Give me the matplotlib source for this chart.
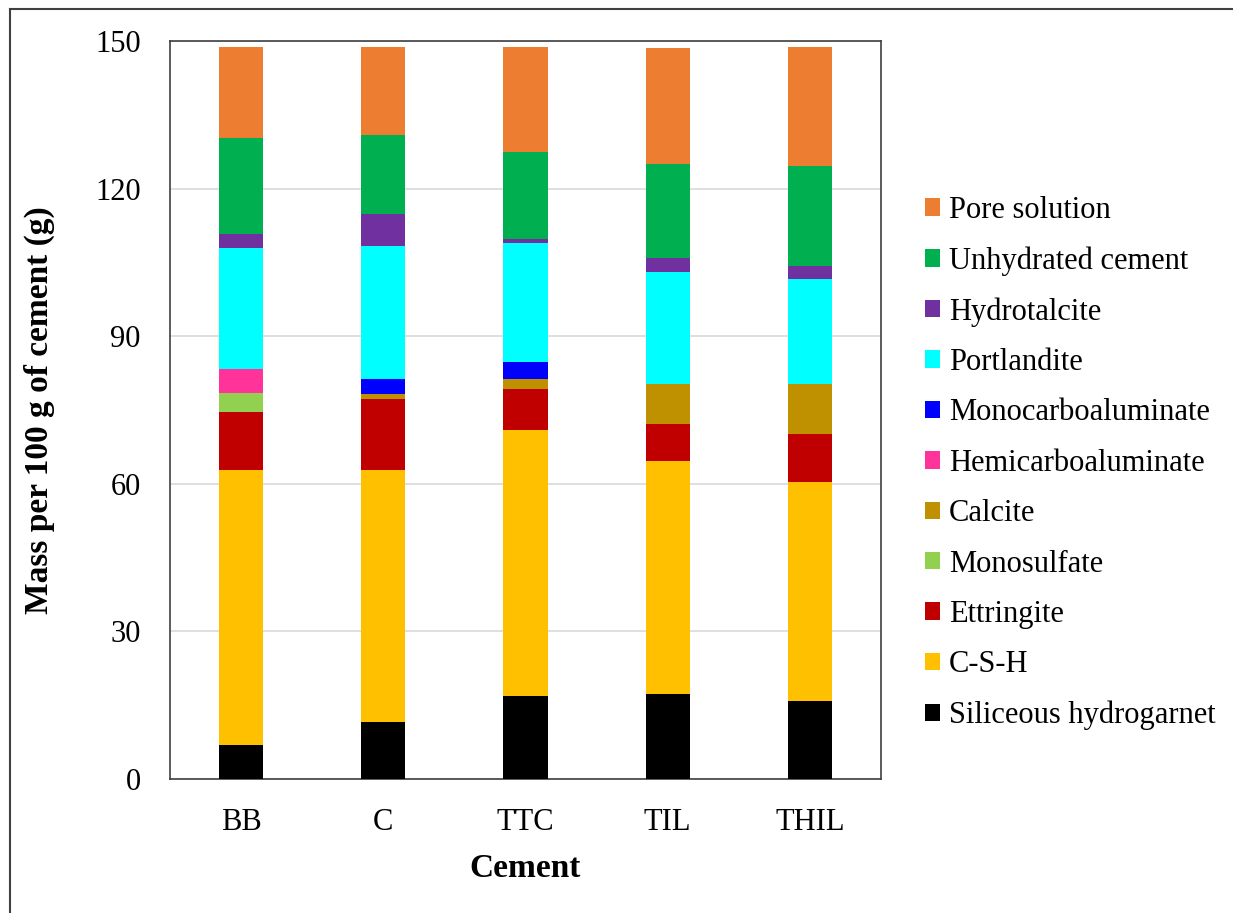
import numpy as np
import matplotlib
matplotlib.use('Agg')
import matplotlib.pyplot as plt
from matplotlib.lines import Line2D

plt.rcParams['font.family'] = ['Liberation Serif', 'DejaVu Serif']

# cements on the x axis
cements = ['BB', 'C', 'TTC', 'TIL', 'THIL']

# phase masses (g per 100 g of cement), bottom to top
siliceous_hydrogarnet = [7.0, 11.5, 16.9, 17.3, 15.9]
csh = [55.8, 51.3, 54.1, 47.3, 44.5]
ettringite = [11.7, 14.4, 8.2, 7.5, 9.7]
monosulfate = [4.0, 0.0, 0.0, 0.0, 0.0]
calcite = [0.0, 1.0, 2.0, 8.1, 10.1]
hemicarboaluminate = [4.8, 0.0, 0.0, 0.0, 0.0]
monocarboaluminate = [0.0, 3.1, 3.5, 0.0, 0.0]
portlandite = [24.7, 27.0, 24.3, 22.9, 21.4]
hydrotalcite = [2.8, 6.5, 0.8, 2.7, 2.7]
unhydrated_cement = [19.4, 16.1, 17.7, 19.2, 20.2]
pore_solution = [18.5, 17.8, 21.2, 23.6, 24.2]

# order in the stack (legend order in the picture is the reverse)
phases = [
    ('Siliceous hydrogarnet', siliceous_hydrogarnet, '#000000'),
    ('C-S-H', csh, '#FFC000'),
    ('Ettringite', ettringite, '#C00000'),
    ('Monosulfate', monosulfate, '#92D050'),
    ('Calcite', calcite, '#BF9000'),
    ('Hemicarboaluminate', hemicarboaluminate, '#FF3399'),
    ('Monocarboaluminate', monocarboaluminate, '#0000FF'),
    ('Portlandite', portlandite, '#00FFFF'),
    ('Hydrotalcite', hydrotalcite, '#7030A0'),
    ('Unhydrated cement', unhydrated_cement, '#00B050'),
    ('Pore solution', pore_solution, '#ED7D31'),
]

fig = plt.figure(figsize=(12.33, 9.13), dpi=100)
ax = fig.add_axes([170 / 1233, 1 - 779 / 913, 711 / 1233, 738 / 913])

x = np.arange(len(cements))
bottom = np.zeros(len(cements))
for name, vals, col in phases:
    vals = np.array(vals)
    ax.bar(x, vals, width=0.31, bottom=bottom, color=col, label=name,
           edgecolor='none', zorder=3)
    bottom += vals

ax.set_xlim(-0.5, len(cements) - 0.5)
ax.set_ylim(0, 150)
ax.set_yticks([0, 30, 60, 90, 120, 150])
ax.set_xticks(x)
ax.set_xticklabels(cements)
ax.tick_params(axis='both', length=0, labelsize=22, colors='black')
ax.tick_params(axis='y', pad=21)
ax.tick_params(axis='x', pad=21)
ax.grid(axis='y', color='#d9d9d9', linewidth=1.2, zorder=0)
for s in ax.spines.values():
    s.set_color('#404040')
    s.set_linewidth(1.2)

ax.set_xlabel('Cement', fontsize=24, fontweight='bold')
ax.xaxis.set_label_coords(0.5, -0.1)
ax.set_ylabel('Mass per 100 g of cement (g)', fontsize=24, fontweight='bold')
ax.yaxis.set_label_coords(-0.162, 0.5)

handles, labels = ax.get_legend_handles_labels()
leg = fig.legend(handles[::-1], labels[::-1], loc='center left',
                 bbox_to_anchor=(897 / 1233, 1 - 463 / 913), frameon=False,
                 fontsize=22, handlelength=0.5, handleheight=0.5,
                 handletextpad=0.3, labelspacing=0.7)

# outer frame (left and top edges only visible)
fig.add_artist(Line2D([10 / 1233, 10 / 1233], [0, 1 - 9 / 913],
                      transform=fig.transFigure, color='#404040', linewidth=1.5))
fig.add_artist(Line2D([10 / 1233, 1], [1 - 9 / 913, 1 - 9 / 913],
                      transform=fig.transFigure, color='#404040', linewidth=1.5))

fig.savefig('out.png', dpi=100)
